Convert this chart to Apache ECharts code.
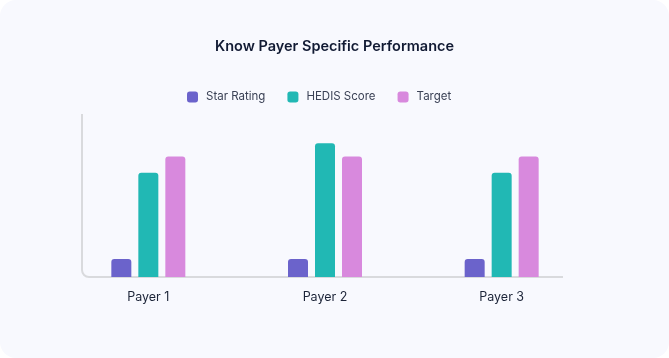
<!DOCTYPE html>
<html>
<head>
<meta charset="utf-8">
<script src="https://cdn.jsdelivr.net/npm/echarts@6/dist/echarts.min.js"></script>
<style>
html,body{margin:0;padding:0;background:#ffffff;}
#c{width:669px;height:358px;background:#f8f9fe;border-radius:16px;overflow:hidden;}
</style>
</head>
<body>
<div id="c"></div>
<script>
const categories = ['Payer 1', 'Payer 2', 'Payer 3'];
const starRating = [11, 11, 11];
const hedisScore = [64, 82, 64];
const target = [74, 74, 74];
const seriesNames = ['Star Rating', 'HEDIS Score', 'Target'];
const colors = ['#6b63cb', '#21b8b4', '#d889dd'];

const chart = echarts.init(document.getElementById('c'), null, {renderer: 'canvas'});
const font = 'Inter, "Noto Sans", sans-serif';
const barStyle = (c) => ({color: c, borderRadius: [3, 3, 0, 0]});
const axisStroke = {stroke: '#d9dadd', lineWidth: 2, fill: null};

chart.setOption({
  backgroundColor: 'transparent',
  animation: false,
  title: {
    text: 'Know Payer Specific Performance',
    left: 'center',
    top: 34,
    textStyle: {fontFamily: font, fontSize: 14.5, fontWeight: 600, color: '#111a33'}
  },
  legend: {
    top: 86,
    left: 182,
    itemWidth: 11,
    itemHeight: 11,
    itemGap: 22,
    icon: 'roundRect',
    textStyle: {fontFamily: font, fontSize: 11.5, color: '#3b4256', padding: [0, 0, 0, 3]},
    data: seriesNames
  },
  grid: {left: 60, right: 79, top: 114, bottom: 81},
  xAxis: {
    type: 'category',
    data: categories,
    axisLine: {show: false},
    axisTick: {show: false},
    axisLabel: {fontFamily: font, fontSize: 12.5, color: '#1c2438', margin: 14}
  },
  yAxis: {
    type: 'value',
    min: 0,
    max: 100,
    show: false,
    splitLine: {show: false}
  },
  graphic: [
    {type: 'line', silent: true, shape: {x1: 82, y1: 114, x2: 82, y2: 270}, style: axisStroke},
    {type: 'arc', silent: true, shape: {cx: 89, cy: 270, r: 7, startAngle: Math.PI / 2, endAngle: Math.PI, clockwise: true}, style: axisStroke},
    {type: 'line', silent: true, shape: {x1: 89, y1: 277, x2: 563, y2: 277}, style: axisStroke}
  ],
  series: [
    {name: seriesNames[0], type: 'bar', data: starRating, barWidth: 20, barGap: '35%', itemStyle: barStyle(colors[0])},
    {name: seriesNames[1], type: 'bar', data: hedisScore, barWidth: 20, barGap: '35%', itemStyle: barStyle(colors[1])},
    {name: seriesNames[2], type: 'bar', data: target, barWidth: 20, barGap: '35%', itemStyle: barStyle(colors[2])}
  ]
});
</script>
</body>
</html>
